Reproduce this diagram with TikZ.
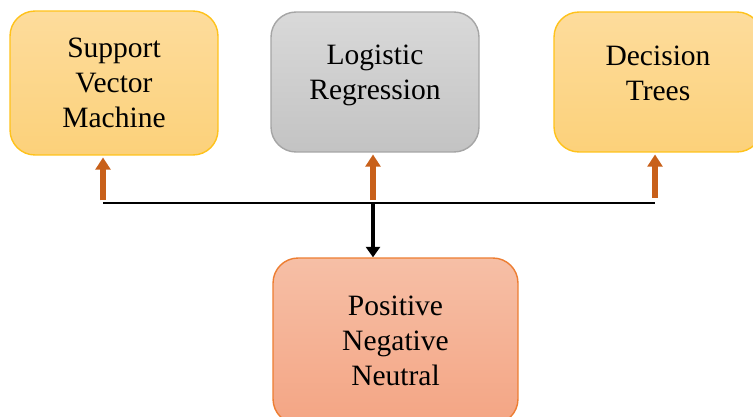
\documentclass[tikz,border=0pt]{standalone}
\usepackage{fontspec}
\setmainfont{Liberation Serif}
\usetikzlibrary{positioning,arrows.meta}

\definecolor{yelfill}{HTML}{FDDC9C}
\definecolor{yelbot}{HTML}{FCD17A}
\definecolor{yeldraw}{HTML}{FFC21A}
\definecolor{grayfill}{HTML}{D9D9D9}
\definecolor{graybot}{HTML}{C3C3C3}
\definecolor{graydraw}{HTML}{A5A5A5}
\definecolor{redfill}{HTML}{F6BFA6}
\definecolor{redbot}{HTML}{F4A584}
\definecolor{reddraw}{HTML}{ED7D31}
\definecolor{arroworange}{HTML}{C8601A}

\begin{document}
\begin{tikzpicture}[
	x=0.02cm, y=-0.02cm,
	block/.style={rectangle, draw, line width=0.8pt, rounded corners=0.5cm,
		align=center, font=\fontsize{16.8}{19.9}\selectfont},
	yelblock/.style={block, draw=yeldraw, top color=yelfill, bottom color=yelbot},
	grayblock/.style={block, draw=graydraw, top color=grayfill, bottom color=graybot},
	redblock/.style={block, draw=reddraw, top color=redfill, bottom color=redbot},
	uparrow/.style={draw=arroworange, line width=3.4pt, -{Triangle[width=8.5pt,length=7pt]}, shorten >=1pt},
	line/.style={draw, line width=1.6pt},
	]
	\useasboundingbox (0,0) rectangle (753,416);
	\clip (0,0) rectangle (753,416);
	\node[yelblock, minimum width=4.16cm, minimum height=2.88cm] (svm) at (114,83) {Support\\Vector\\Machine};
	\node[grayblock, minimum width=4.16cm, minimum height=2.8cm, text depth=0.41cm] (logreg) at (375,82) {Logistic\\Regression};
	\node[yelblock, minimum width=4.16cm, minimum height=2.8cm, text depth=0.36cm] (dtree) at (658,82) {Decision\\Trees};
	\node[redblock, minimum width=4.9cm, minimum height=3.32cm] (result) at (395.5,341) {Positive\\Negative\\Neutral};

	%Verbindungen
	\coordinate (jl) at (103,203);
	\coordinate (jc) at (373,203);
	\coordinate (jr) at (655,203);
	\path[line] (jl) -- (jr);
	\path[line, line width=2.2pt, -{Triangle[width=8pt,length=6pt]}] (jc) -- (jc |- result.north);
	\path[uparrow] ([yshift=1.5pt]jl) -- (jl |- svm.south);
	\path[uparrow] ([yshift=1.5pt]jc) -- (jc |- logreg.south);
	\path[uparrow] ([yshift=3pt]jr) -- (jr |- dtree.south);
\end{tikzpicture}
\end{document}
